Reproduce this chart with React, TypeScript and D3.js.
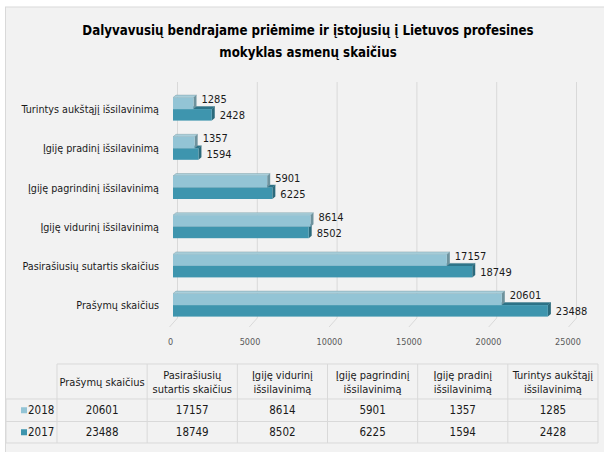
import React, { useEffect, useRef } from 'react';
import * as d3 from 'd3';

// kategorijos (duomenų tvarka: nuo apačios į viršų)
const categories = [
  'Prašymų skaičius',
  'Pasirašiusių sutartis skaičius',
  'Įgiję vidurinį išsilavinimą',
  'Įgiję pagrindinį išsilavinimą',
  'Įgiję pradinį išsilavinimą',
  'Turintys aukštąjį išsilavinimą',
];
const years = ['2018', '2017'];
const values2018 = [20601, 17157, 8614, 5901, 1357, 1285];
const values2017 = [23488, 18749, 8502, 6225, 1594, 2428];
const ticks = [0, 5000, 10000, 15000, 20000, 25000];
const titleLines = [
  'Dalyvavusių bendrajame priėmime ir įstojusių į Lietuvos profesines',
  'mokyklas asmenų skaičius',
];

const W = 604;
const H = 452;
const FONT = "'Liberation Sans Narrow', 'DejaVu Sans Condensed', 'Roboto Condensed', sans-serif";

const colors = {
  '2018': { front: '#93c4d5', top: '#a9cfdb', side: '#6e929d' },
  '2017': { front: '#3e95ae', top: '#2e7489', side: '#2b6a7c' },
};

const wrap = (s: string, max: number) => {
  const words = s.split(' ');
  const lines: string[] = [];
  let cur = '';
  words.forEach(w => {
    if (cur && (cur + ' ' + w).length > max) {
      lines.push(cur);
      cur = w;
    } else cur = cur ? cur + ' ' + w : w;
  });
  if (cur) lines.push(cur);
  return lines;
};

const App = () => {
  const ref = useRef<SVGSVGElement>(null);

  useEffect(() => {
    const svg = d3.select(ref.current);
    svg.selectAll('*').remove();

    // fonas
    svg.append('rect').attr('width', W).attr('height', H).attr('fill', '#ffffff');
    svg.append('rect').attr('x', 5.5).attr('y', 7).attr('width', W).attr('height', H)
      .attr('fill', '#f2f2f2').attr('stroke', '#d9d9d9');

    // pavadinimas
    svg.append('g').selectAll('text').data(titleLines).enter().append('text')
      .attr('x', 308).attr('y', (d, i) => 35 + i * 22)
      .attr('text-anchor', 'middle')
      .style('font-family', FONT).style('font-size', '13.2px').style('font-weight', 'bold')
      .attr('fill', '#000')
      .text(d => d);

    // skalės
    const dx = 3, dy = 2.5;
    const x = d3.scaleLinear().domain([0, 25000]).range([173, 572]);
    const xBack = d3.scaleLinear().domain([0, 25000]).range([177.5, 576.5]);
    const xTick = d3.scaleLinear().domain([0, 25000]).range([170.5, 568]);
    const y = d3.scaleBand().domain(categories.slice().reverse()).range([89.5, 324.7]);
    const barH = 11.5;

    // tinklelis
    const grid = svg.append('g');
    grid.selectAll('path').data(ticks).enter().append('path')
      .attr('d', d => `M${xBack(d)},82 L${xBack(d)},318 L${xBack(d) - 8},327`)
      .attr('fill', 'none').attr('stroke', '#d9d9d9').attr('stroke-width', 1);

    grid.selectAll('text').data(ticks).enter().append('text')
      .attr('x', d => xTick(d)).attr('y', 345)
      .attr('text-anchor', 'middle')
      .style('font-family', FONT).style('font-size', '9px')
      .attr('fill', '#595959')
      .text(d => d);

    // kategorijų pavadinimai
    svg.append('g').selectAll('text').data(categories).enter().append('text')
      .attr('x', 159).attr('y', d => (y(d) as number) + y.bandwidth() / 2 + 4)
      .attr('text-anchor', 'end')
      .style('font-family', FONT).style('font-size', '10.7px')
      .attr('fill', '#1a1a1a')
      .text(d => d);

    // 3D stulpeliai
    const bars = svg.append('g');
    categories.forEach((c, i) => {
      const yc = (y(c) as number) + y.bandwidth() / 2;
      const series = [
        { year: '2017', v: values2017[i], top: yc },
        { year: '2018', v: values2018[i], top: yc - barH },
      ];
      series.forEach(s => {
        const col = colors[s.year as '2018' | '2017'];
        const x0 = x(0), x1 = x(s.v), t = s.top, b = s.top + barH;
        bars.append('polygon')
          .attr('points', `${x0},${t} ${x1},${t} ${x1 + dx},${t - dy} ${x0 + dx},${t - dy}`)
          .attr('fill', col.top).attr('stroke', col.side).attr('stroke-width', 0.4);
        bars.append('polygon')
          .attr('points', `${x1},${t} ${x1 + dx},${t - dy} ${x1 + dx},${b - dy} ${x1},${b}`)
          .attr('fill', col.side);
        bars.append('rect')
          .attr('x', x0).attr('y', t).attr('width', x1 - x0).attr('height', barH)
          .attr('fill', col.front);
      });

      // reikšmių etiketės
      bars.append('text')
        .attr('x', x(values2018[i]) + 8).attr('y', yc - 10 + 4)
        .style('font-family', FONT).style('font-size', '11px').attr('fill', '#1a1a1a')
        .text(values2018[i]);
      bars.append('text')
        .attr('x', x(values2017[i]) + 8).attr('y', yc + 6 + 4)
        .style('font-family', FONT).style('font-size', '11px').attr('fill', '#1a1a1a')
        .text(values2017[i]);
    });

    // duomenų lentelė
    const tbl = svg.append('g');
    const colX = d3.scaleBand().domain(categories).range([57, 598]);
    const rowTop = [364, 399, 421.5, 443];
    const line = '#d9d9d9';

    // horizontalios linijos
    tbl.append('line').attr('x1', 57).attr('x2', 598).attr('y1', rowTop[0]).attr('y2', rowTop[0]).attr('stroke', line);
    [1, 2, 3].forEach(r => {
      tbl.append('line').attr('x1', 6).attr('x2', 598).attr('y1', rowTop[r]).attr('y2', rowTop[r]).attr('stroke', line);
    });
    // vertikalios linijos
    tbl.append('line').attr('x1', 6).attr('x2', 6).attr('y1', rowTop[1]).attr('y2', rowTop[3]).attr('stroke', line);
    categories.forEach(c => {
      tbl.append('line').attr('x1', colX(c) as number).attr('x2', colX(c) as number)
        .attr('y1', rowTop[0]).attr('y2', rowTop[3]).attr('stroke', line);
    });
    tbl.append('line').attr('x1', 598).attr('x2', 598).attr('y1', rowTop[0]).attr('y2', rowTop[3]).attr('stroke', line);

    // antraštės
    categories.forEach(c => {
      const lines = wrap(c, 17);
      const cx = (colX(c) as number) + colX.bandwidth() / 2;
      const mid = (rowTop[0] + rowTop[1]) / 2;
      lines.forEach((l, k) => {
        tbl.append('text')
          .attr('x', cx).attr('y', mid + 4 + (k - (lines.length - 1) / 2) * 14)
          .attr('text-anchor', 'middle')
          .style('font-family', FONT).style('font-size', '11px').attr('fill', '#1a1a1a')
          .text(l);
      });
    });

    // eilutės
    [values2018, values2017].forEach((vals, r) => {
      const mid = (rowTop[r + 1] + rowTop[r + 2]) / 2;
      tbl.append('rect').attr('x', 21).attr('y', mid - 3).attr('width', 6).attr('height', 6)
        .attr('fill', colors[years[r] as '2018' | '2017'].front);
      tbl.append('text').attr('x', 28).attr('y', mid + 4)
        .style('font-family', FONT).style('font-size', '11.5px')
        .attr('fill', '#1a1a1a').text(years[r]);
      categories.forEach((c, i) => {
        tbl.append('text')
          .attr('x', (colX(c) as number) + colX.bandwidth() / 2).attr('y', mid + 4)
          .attr('text-anchor', 'middle')
          .style('font-family', FONT).style('font-size', '11.5px').attr('fill', '#1a1a1a')
          .text(vals[i]);
      });
    });
  }, []);

  return (
    <svg ref={ref} width={W} height={H} style={{ position: 'absolute', left: 0, top: 0 }} />
  );
};

export default App;
